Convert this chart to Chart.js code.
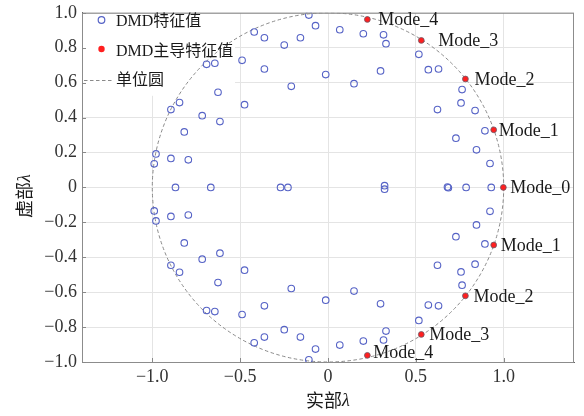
<!DOCTYPE html>
<html>
<head>
<meta charset="utf-8">
<script src="https://cdn.jsdelivr.net/npm/chart.js@4/dist/chart.umd.min.js"></script>
<style>
  html, body { margin: 0; padding: 0; background: #fff; }
  #wrap { width: 584px; height: 416px; }
</style>
</head>
<body>
<div id="wrap"><canvas id="c" width="584" height="416"></canvas></div>
<script>
// DMD eigenvalues, upper half-plane
const eigRealUpper = [-0.989, -0.979, -0.894, -0.795, -0.818, -0.894, -0.845, -0.716, -0.615, -0.626,
  -0.691, -0.644, -0.489, -0.475, -0.420, -0.362, -0.362, -0.249, -0.209, -0.157, -0.109, -0.071, -0.013,
  0.067, 0.201, 0.316, 0.330, 0.517, 0.571, 0.629, 0.299, 0.148, 0.763, 0.757,
  0.837, 0.623, 0.893, 0.728, 0.845, 0.922];
const eigImagUpper = [0.135, 0.192, 0.166, 0.158, 0.318, 0.446, 0.486, 0.411, 0.377, 0.545,
  0.705, 0.711, 0.728, 0.474, 0.890, 0.857, 0.678, 0.815, 0.579, 0.857, 0.987, 0.926, 0.646,
  0.903, 0.880, 0.874, 0.823, 0.762, 0.674, 0.678, 0.667, 0.594, 0.560, 0.484,
  0.440, 0.446, 0.324, 0.282, 0.215, 0.137];

// DMD eigenvalues on / next to the real axis
const eigRealAxis = [-0.868, -0.667, -0.270, -0.228, 0.322, 0.322, 0.680, 0.685, 0.786, 0.929];
const eigImagAxis = [0, 0, 0, 0, 0.010, -0.010, 0.002, -0.002, 0, 0];

// DMD eigenvalues, lower half-plane
const eigRealLower = [-0.989, -0.979, -0.894, -0.795, -0.818, -0.894, -0.845, -0.716, -0.615, -0.626,
  -0.691, -0.644, -0.489, -0.475, -0.420, -0.362, -0.362, -0.249, -0.209, -0.157, -0.109, -0.071, -0.013,
  0.067, 0.201, 0.316, 0.330, 0.517, 0.571, 0.629, 0.299, 0.148, 0.763, 0.757,
  0.837, 0.623, 0.893, 0.728, 0.845, 0.922];
const eigImagLower = [-0.135, -0.192, -0.166, -0.158, -0.318, -0.446, -0.486, -0.411, -0.377, -0.545,
  -0.705, -0.711, -0.728, -0.474, -0.890, -0.857, -0.678, -0.815, -0.579, -0.857, -0.987, -0.926, -0.646,
  -0.903, -0.880, -0.874, -0.823, -0.762, -0.674, -0.678, -0.667, -0.594, -0.560, -0.484,
  -0.440, -0.446, -0.324, -0.282, -0.215, -0.137];

// Dominant DMD eigenvalues and their labels
const modeReal = [0.998, 0.943, 0.943, 0.782, 0.782, 0.531, 0.531, 0.224, 0.224];
const modeImag = [0, 0.330, -0.330, 0.621, -0.621, 0.842, -0.842, 0.962, -0.962];
const modeLabels = ['Mode_0', 'Mode_1', 'Mode_1', 'Mode_2', 'Mode_2', 'Mode_3', 'Mode_3', 'Mode_4', 'Mode_4'];

// Axis ticks
const xTicks = [-1.0, -0.5, 0, 0.5, 1.0];
const yTicks = [-1.0, -0.8, -0.6, -0.4, -0.2, 0, 0.2, 0.4, 0.6, 0.8, 1.0];

// Texts
const legendLabels = ['DMD特征值', 'DMD主导特征值', '单位圆'];
const xTitle = ['实部', 'λ'];
const yTitle = ['虚部', 'λ'];

// ---- styles ----
const SERIF = "'Liberation Serif', 'Times New Roman', serif";
const CJK = "'Noto Sans CJK SC', sans-serif";
const MIXED = "'Liberation Serif', 'Noto Sans CJK SC', serif";
const BLUE = '#5663c6';
const RED = '#ff1f1f';
const CIRCLE_GRAY = '#8a8a8a';
// label offsets from their marker, in pixels
const labelGap = [7, 5, 7, 9, 8, 17, 8, 11, 6];
const labelLift = [1, 1, 1, 1, 1, 1, 1, 1, -2];

function zip(re, im) { return re.map((r, i) => ({ x: r, y: im[i] })); }
const eigPoints = [
  ...zip(eigRealUpper, eigImagUpper),
  ...zip(eigRealAxis, eigImagAxis),
  ...zip(eigRealLower, eigImagLower)
];
const modePoints = zip(modeReal, modeImag);

function fmt(v) {
  if (Math.abs(v) < 1e-9) return '0';
  return (v < 0 ? '\u2212' : '') + Math.abs(v).toFixed(1);
}

const overlay = {
  id: 'overlay',
  beforeDatasetsDraw(chart) {
    const { ctx, chartArea: a, scales: { x, y } } = chart;
    // white backdrop of the legend (hides grid lines only)
    ctx.save();
    ctx.fillStyle = '#fff';
    ctx.fillRect(a.left + 1, a.top + 1, 152, 82);
    // unit circle
    ctx.beginPath();
    ctx.rect(a.left, a.top, a.right - a.left, a.bottom - a.top);
    ctx.clip();
    const cx = x.getPixelForValue(0), cy = y.getPixelForValue(0);
    const rx = x.getPixelForValue(1) - cx, ry = cy - y.getPixelForValue(1);
    ctx.beginPath();
    ctx.ellipse(cx, cy, rx, ry, 0, 0, Math.PI * 2);
    ctx.strokeStyle = CIRCLE_GRAY;
    ctx.lineWidth = 1;
    ctx.setLineDash([3.5, 2.5]);
    ctx.stroke();
    ctx.restore();
  },
  afterDraw(chart) {
    const { ctx, chartArea: a, scales: { x, y } } = chart;
    ctx.save();
    // frame
    ctx.strokeStyle = '#8c8c8c';
    ctx.lineWidth = 1;
    ctx.strokeRect(a.left + 0.5, a.top + 0.5, a.right - a.left - 1, a.bottom - a.top);

    // inward tick marks
    ctx.strokeStyle = '#888';
    ctx.beginPath();
    x.ticks.forEach(t => {
      const px = Math.round(x.getPixelForValue(t.value)) + 0.5;
      ctx.moveTo(px, a.bottom); ctx.lineTo(px, a.bottom - 4);
    });
    y.ticks.forEach(t => {
      const py = Math.round(y.getPixelForValue(t.value)) + 0.5;
      ctx.moveTo(a.left, py); ctx.lineTo(a.left + 4, py);
    });
    ctx.stroke();

    // legend
    const mx = 101.5;
    ctx.beginPath();
    ctx.arc(mx, 20, 3.3, 0, Math.PI * 2);
    ctx.strokeStyle = BLUE; ctx.lineWidth = 1.2; ctx.stroke();
    ctx.beginPath();
    ctx.arc(mx, 49, 3.2, 0, Math.PI * 2);
    ctx.fillStyle = RED; ctx.fill();
    ctx.beginPath();
    ctx.setLineDash([3.5, 2.5]);
    ctx.moveTo(84, 80.5); ctx.lineTo(113, 80.5);
    ctx.strokeStyle = CIRCLE_GRAY; ctx.lineWidth = 1; ctx.stroke();
    ctx.setLineDash([]);
    ctx.fillStyle = '#1a1a1a';
    ctx.font = '16px ' + MIXED;
    ctx.textBaseline = 'middle';
    ctx.textAlign = 'left';
    [22, 52, 81].forEach((yy, i) => ctx.fillText(legendLabels[i], 116, yy));

    // mode labels
    const meta = chart.getDatasetMeta(1);
    ctx.font = '18px ' + SERIF;
    ctx.fillStyle = '#1a1a1a';
    meta.data.forEach((el, i) => {
      ctx.fillText(modeLabels[i], el.x + labelGap[i], el.y + labelLift[i]);
    });

    // axis titles
    const drawTitle = (parts) => {
      ctx.font = '18px ' + CJK;
      const w0 = ctx.measureText(parts[0]).width;
      ctx.font = 'italic 18px ' + SERIF;
      const w1 = ctx.measureText(parts[1]).width;
      const start = -(w0 + w1) / 2;
      ctx.textAlign = 'left';
      ctx.textBaseline = 'middle';
      ctx.font = '18px ' + CJK;
      ctx.fillText(parts[0], start, 0);
      ctx.font = 'italic 18px ' + SERIF;
      ctx.fillText(parts[1], start + w0, 1);
    };
    ctx.fillStyle = '#1a1a1a';
    ctx.save();
    ctx.translate((a.left + a.right) / 2, 400);
    drawTitle(xTitle);
    ctx.restore();
    ctx.save();
    ctx.translate(24, 196);
    ctx.rotate(-Math.PI / 2);
    drawTitle(yTitle);
    ctx.restore();
    ctx.restore();
  }
};

new Chart(document.getElementById('c'), {
  type: 'scatter',
  data: {
    datasets: [
      {
        label: legendLabels[0],
        data: eigPoints,
        pointStyle: 'circle',
        pointRadius: 3.3,
        pointHoverRadius: 3.3,
        borderColor: BLUE,
        backgroundColor: 'rgba(0,0,0,0)',
        borderWidth: 1.1
      },
      {
        label: legendLabels[1],
        data: modePoints,
        pointStyle: 'circle',
        pointRadius: 2.9,
        pointHoverRadius: 2.9,
        borderColor: '#6a5a6a',
        backgroundColor: RED,
        borderWidth: 0.8
      }
    ]
  },
  options: {
    responsive: false,
    animation: false,
    devicePixelRatio: 1,
    layout: { padding: { top: 12, right: 10, left: 0, bottom: 0 } },
    plugins: { legend: { display: false }, tooltip: { enabled: false } },
    scales: {
      x: {
        type: 'linear',
        min: -1.4,
        max: 1.4,
        afterBuildTicks: s => { s.ticks = xTicks.map(v => ({ value: v })); },
        afterFit: s => { s.height = 54; },
        ticks: {
          callback: v => fmt(v),
          font: { family: SERIF, size: 18 },
          color: '#333',
          padding: 1,
          maxRotation: 0
        },
        grid: { color: '#e4e4e4', lineWidth: 1, tickLength: 3, tickColor: 'rgba(0,0,0,0)' },
        border: { display: true, color: '#666' }
      },
      y: {
        type: 'linear',
        min: -1,
        max: 1,
        afterBuildTicks: s => { s.ticks = yTicks.map(v => ({ value: v })); },
        afterFit: s => { s.width = 82; },
        ticks: {
          callback: v => fmt(v),
          font: { family: SERIF, size: 18 },
          color: '#333',
          padding: 2
        },
        grid: { color: '#e4e4e4', lineWidth: 1, tickLength: 3, tickColor: 'rgba(0,0,0,0)' },
        border: { display: true, color: '#666' }
      }
    }
  },
  plugins: [overlay]
});
</script>
</body>
</html>
